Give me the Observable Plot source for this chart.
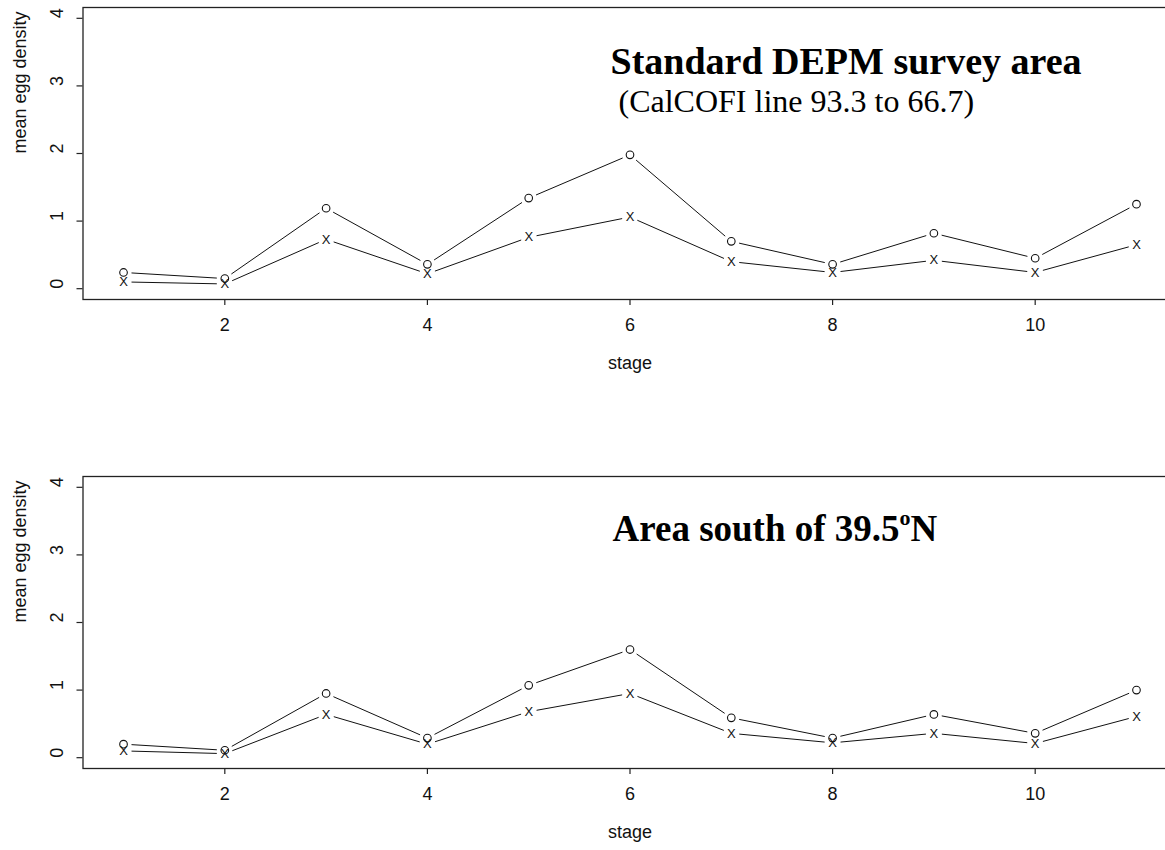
<!DOCTYPE html>
<html>
<head>
<meta charset="utf-8">
<script src="https://cdn.jsdelivr.net/npm/d3@7"></script>
<script src="https://cdn.jsdelivr.net/npm/@observablehq/plot@0.6"></script>
<style>
  html, body { margin: 0; padding: 0; background: #fff; overflow: hidden; }
  #chart svg { display: block; max-width: none !important; height: auto; }
</style>
</head>
<body>
<div id="chart"></div>
<script>
// ---- data ----
const stages = [1, 2, 3, 4, 5, 6, 7, 8, 9, 10, 11];
const standardCircle = [0.24, 0.15, 1.19, 0.36, 1.34, 1.98, 0.70, 0.36, 0.82, 0.45, 1.25];
const standardCross  = [0.10, 0.07, 0.73, 0.22, 0.76, 1.06, 0.40, 0.24, 0.42, 0.24, 0.65];
const southCircle    = [0.20, 0.11, 0.95, 0.29, 1.07, 1.60, 0.59, 0.29, 0.64, 0.36, 1.00];
const southCross     = [0.10, 0.06, 0.64, 0.20, 0.68, 0.95, 0.36, 0.22, 0.36, 0.21, 0.61];
const xTicks = [2, 4, 6, 8, 10];
const yTicks = [0, 1, 2, 3, 4];
const xLabel = "stage";
const yLabel = "mean egg density";
const title1 = "Standard DEPM survey area";
const subtitle1 = "(CalCOFI line 93.3 to 66.7)";
const title2Main = "Area south of 39.5";
const title2Sup = "o";
const title2Tail = "N";
const crossSymbol = "X";

const sans = "'Liberation Sans', Arial, Helvetica, sans-serif";
const serif = "'Liberation Serif', 'Times New Roman', Times, serif";

function makePanel(circ, cross, height, marginBottom, extraMarks) {
  const rows = stages.map((s, i) => ({stage: s, circle: circ[i], cross: cross[i]}));
  const segs = [];
  for (const key of ["circle", "cross"]) {
    for (let i = 0; i < rows.length - 1; i++) {
      segs.push({x1: rows[i].stage, y1: rows[i][key], x2: rows[i + 1].stage, y2: rows[i + 1][key]});
    }
  }
  return Plot.plot({
    width: 1178,
    height: height,
    marginTop: 7,
    marginBottom: marginBottom,
    marginLeft: 82.5,
    marginRight: 1.5,
    x: {domain: [0.6, 11.4], axis: null},
    y: {domain: [-0.16, 4.16], axis: null},
    style: {fontFamily: sans, background: "white", color: "#111"},
    marks: [
      Plot.frame({stroke: "#222", strokeWidth: 1.3}),
      Plot.axisX({ticks: xTicks, tickSize: 6, tickFormat: () => "", stroke: "#222", strokeWidth: 1.2}),
      Plot.axisY({ticks: yTicks, tickSize: 6, tickFormat: () => "", stroke: "#222", strokeWidth: 1.2}),
      Plot.text(xTicks, {x: d => d, text: d => String(d), frameAnchor: "bottom", dy: 31, fontSize: 18, fill: "#111"}),
      Plot.text(yTicks, {y: d => d, text: d => String(d), frameAnchor: "left", dx: -26, rotate: -90, fontSize: 18, fill: "#111"}),
      Plot.text([xLabel], {text: d => d, frameAnchor: "bottom", dy: 69, fontSize: 18, fill: "#111"}),
      Plot.text([yLabel], {text: d => d, frameAnchor: "left", dx: -62.5, rotate: -90, fontSize: 18, fill: "#111"}),
      Plot.arrow(segs, {x1: "x1", y1: "y1", x2: "x2", y2: "y2", headLength: 0, insetStart: 8, insetEnd: 8,
        stroke: "#111", strokeWidth: 1, strokeLinecap: "butt"}),
      Plot.dot(rows, {x: "stage", y: "circle", r: 3.8, stroke: "#111", strokeWidth: 1.1, fill: "none", symbol: "circle"}),
      Plot.text(rows, {x: "stage", y: "cross", text: () => crossSymbol, fontSize: 13, fill: "#111"}),
      ...extraMarks
    ]
  });
}

const topPanel = makePanel(standardCircle, standardCross, 469, 170, [
  Plot.text([title1], {text: d => d, frameAnchor: "top-left", textAnchor: "start", lineAnchor: "bottom",
    dx: 610 - 82.5, dy: 66, fontSize: 38, fontWeight: "bold", fontFamily: serif, fill: "#000"}),
  Plot.text([subtitle1], {text: d => d, frameAnchor: "top-left", textAnchor: "start", lineAnchor: "bottom",
    dx: 618 - 82.5, dy: 104, fontSize: 32, fontFamily: serif, fill: "#000"})
]);

const bottomPanel = makePanel(southCircle, southCross, 381, 82, [
  Plot.text([title2Main + title2Sup + title2Tail], {text: d => d, frameAnchor: "top-left", textAnchor: "start", lineAnchor: "bottom",
    dx: 612 - 82.5, dy: 64, fontSize: 37, fontWeight: "bold", fontFamily: serif, fill: "#000"})
]);

// turn the degree "o" into a real superscript
for (const t of bottomPanel.querySelectorAll("text")) {
  if (t.textContent === title2Main + title2Sup + title2Tail) {
    t.textContent = title2Main;
    const ns = "http://www.w3.org/2000/svg";
    const sup = document.createElementNS(ns, "tspan");
    sup.setAttribute("font-size", "22");
    sup.setAttribute("dy", "-16");
    sup.textContent = title2Sup;
    const tail = document.createElementNS(ns, "tspan");
    tail.setAttribute("dy", "16");
    tail.textContent = title2Tail;
    t.appendChild(sup);
    t.appendChild(tail);
  }
}

const chart = document.getElementById("chart");
chart.appendChild(topPanel);
chart.appendChild(bottomPanel);
</script>
</body>
</html>
